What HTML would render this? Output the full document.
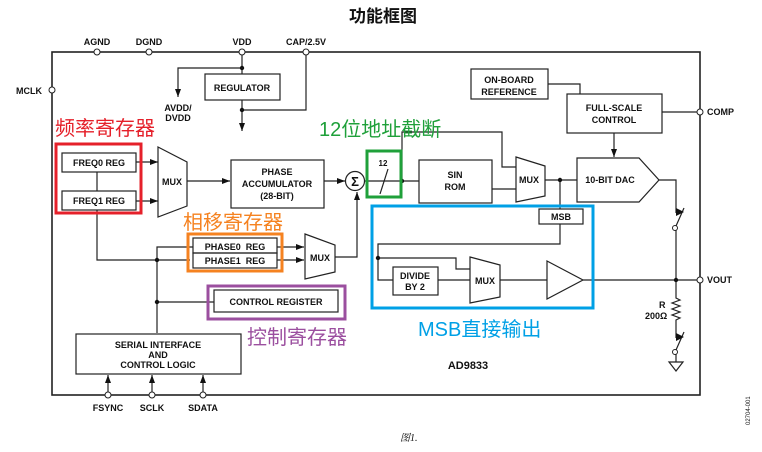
<!DOCTYPE html>
<html><head><meta charset="utf-8"><style>
html,body{margin:0;padding:0;background:#fff;}
svg{display:block;}
text{font-family:"Liberation Sans",Arial,sans-serif;font-weight:bold;font-size:9px;fill:#111;}
.cn{font-family:"Liberation Sans","Noto Sans CJK SC",sans-serif;font-weight:normal;font-size:20px;}
</style></head><body>
<svg width="762" height="452" viewBox="0 0 762 452" xmlns="http://www.w3.org/2000/svg">
<defs><marker id="a" markerWidth="8" markerHeight="6" refX="8" refY="3" orient="auto" markerUnits="userSpaceOnUse"><path d="M0,0L8,3L0,6z" fill="#111"/></marker></defs>
<g stroke="#222" stroke-width="1.2" fill="none">
<rect x="52" y="52" width="648" height="343" stroke-width="1.6"/>
<path d="M242 52V110M242 68H178V97" marker-end="url(#a)"/>
<path d="M242 110V131" marker-end="url(#a)"/>
<path d="M242 110H306V52"/>
<rect x="205" y="74" width="75" height="26" fill="#fff"/>
<rect x="62" y="153" width="74" height="19"/>
<rect x="62" y="191" width="74" height="19"/>
<path d="M97 172V191M97 210V260H190"/>
<path d="M136 162H158" marker-end="url(#a)"/>
<path d="M136 201H158" marker-end="url(#a)"/>
<path d="M158 147L187 162V206L158 217Z"/>
<path d="M187 181H230" marker-end="url(#a)"/>
<rect x="231" y="160" width="93" height="48"/>
<path d="M324 181H345" marker-end="url(#a)"/>
<circle cx="355" cy="181" r="9.5"/>
<path d="M365 181H419"/>
<path d="M380 194L388 169"/>
<path d="M402 181V132H502V167H516"/>
<rect x="419" y="160" width="73" height="43"/>
<path d="M492 189H516"/>
<path d="M516 157L545 166V196L516 202Z"/>
<path d="M545 180H577"/>
<path d="M577 158H639L659 180L639 202H577Z"/>
<rect x="471" y="69" width="77" height="30"/>
<path d="M548 84H580V94"/>
<rect x="567" y="94" width="95" height="39"/>
<path d="M614 133V157" marker-end="url(#a)"/>
<path d="M662 112H700"/>
<path d="M659 180H676V213M676 226L684 208M676 230V280"/>
<path d="M560 180V209"/>
<rect x="539" y="209" width="44" height="15"/>
<path d="M560 224V244H378V280H393"/>
<path d="M378 258H456V269H470"/>
<rect x="393" y="267" width="45" height="28"/>
<path d="M438 280H470"/>
<path d="M470 257L500 265V297L470 303Z"/>
<path d="M500 280H547"/>
<path d="M547 261L583 280L547 299Z"/>
<path d="M583 280H700"/>
<path d="M676 280V298L680 300L672 303L680 306L672 309L680 312L672 315L680 318L676 320V338M676 350L684 332M676 354V362"/>
<path d="M669 362H683L676 371Z"/>
<rect x="193" y="238" width="84" height="15"/>
<rect x="193" y="253" width="84" height="15"/>
<path d="M277 247H304" marker-end="url(#a)"/>
<path d="M277 260H304" marker-end="url(#a)"/>
<path d="M305 234L335 245V272L305 279Z"/>
<path d="M335 257H357V192" marker-end="url(#a)"/>
<path d="M193 247H157V333M157 302H214"/>
<rect x="214" y="290" width="124" height="22"/>
<rect x="76" y="334" width="165" height="40"/>
<path d="M108 395V375" marker-end="url(#a)"/>
<path d="M152 395V375" marker-end="url(#a)"/>
<path d="M203 395V375" marker-end="url(#a)"/>
</g>
<path d="M676 208L684 212L676 216Z" fill="#111"/>
<path d="M676 333L684 337L676 341Z" fill="#111"/>
<g fill="#111">
<circle cx="242" cy="68" r="2.2"/><circle cx="242" cy="110" r="2.2"/>
<circle cx="402" cy="181" r="2.2"/><circle cx="560" cy="180" r="2.2"/>
<circle cx="378" cy="258" r="2.2"/><circle cx="676" cy="280" r="2.2"/>
<circle cx="157" cy="260" r="2.2"/><circle cx="157" cy="302" r="2.2"/>
</g>
<g fill="#fff" stroke="#222" stroke-width="1">
<circle cx="97" cy="52" r="3"/><circle cx="149" cy="52" r="3"/><circle cx="242" cy="52" r="3"/><circle cx="306" cy="52" r="3"/>
<circle cx="52" cy="90" r="3"/><circle cx="700" cy="112" r="3"/><circle cx="700" cy="280" r="3"/>
<circle cx="108" cy="395" r="3"/><circle cx="152" cy="395" r="3"/><circle cx="203" cy="395" r="3"/>
<circle cx="675" cy="228" r="2.5"/><circle cx="675" cy="352" r="2.5"/>
</g>
<g fill="none" stroke-width="3">
<rect x="56" y="144" width="85" height="69" stroke="#e5202a"/>
<rect x="188" y="234" width="94" height="37" stroke="#f58220"/>
<rect x="208" y="286" width="137" height="33" stroke="#9b4f9f"/>
<rect x="367" y="151" width="34" height="46" stroke="#1fa03a"/>
<rect x="372" y="206" width="221" height="102" stroke="#00a0e6"/>
</g>
<text x="383" y="22" text-anchor="middle" style="font-family:'Liberation Sans','Noto Sans CJK SC',sans-serif;font-size:17px">功能框图</text>
<g text-anchor="middle">
<text x="97" y="45">AGND</text><text x="149" y="45">DGND</text><text x="242" y="45">VDD</text><text x="306" y="45">CAP/2.5V</text>
<text x="178" y="111">AVDD/</text><text x="178" y="121">DVDD</text>
<text x="242" y="91">REGULATOR</text>
<text x="99" y="166">FREQ0 REG</text><text x="99" y="204">FREQ1 REG</text>
<text x="172" y="185">MUX</text>
<text x="277" y="175">PHASE</text><text x="277" y="187">ACCUMULATOR</text><text x="277" y="199">(28-BIT)</text>
<text x="355" y="186" style="font-size:13px">Σ</text>
<text x="383" y="166" style="font-size:8px">12</text>
<text x="455" y="178">SIN</text><text x="455" y="190">ROM</text>
<text x="529" y="183">MUX</text>
<text x="509" y="83">ON-BOARD</text><text x="509" y="95">REFERENCE</text>
<text x="614" y="111">FULL-SCALE</text><text x="614" y="123">CONTROL</text>
<text x="610" y="183">10-BIT DAC</text>
<text x="561" y="220">MSB</text>
<text x="415" y="279">DIVIDE</text><text x="415" y="290">BY 2</text>
<text x="485" y="284">MUX</text>
<text x="235" y="250">PHASE0&#160;&#160;REG</text><text x="235" y="264">PHASE1&#160;&#160;REG</text>
<text x="320" y="261">MUX</text>
<text x="276" y="305">CONTROL&#160;REGISTER</text>
<text x="158" y="348">SERIAL INTERFACE</text><text x="158" y="358">AND</text><text x="158" y="368">CONTROL LOGIC</text>
<text x="108" y="411">FSYNC</text><text x="152" y="411">SCLK</text><text x="203" y="411">SDATA</text>
<text x="468" y="369" style="font-size:11px">AD9833</text>
</g>
<text x="16" y="94">MCLK</text>
<text x="707" y="115">COMP</text><text x="707" y="283">VOUT</text>
<text x="659" y="308">R</text><text x="645" y="319">200Ω</text>
<text class="cn" x="55" y="135" style="fill:#e5202a">频率寄存器</text>
<text class="cn" x="319" y="136" style="fill:#1fa03a">12位地址截断</text>
<text class="cn" x="183" y="229" style="fill:#f58220">相移寄存器</text>
<text class="cn" x="247" y="344" style="fill:#9b4f9f">控制寄存器</text>
<text class="cn" x="418" y="336" style="fill:#00a0e6">MSB直接输出</text>
<text x="400" y="441" style="font-family:'Liberation Serif','Noto Serif CJK SC',serif;font-style:italic;font-weight:normal;font-size:10px">图1.</text>
<text transform="translate(750,425) rotate(-90)" style="font-size:6px;font-weight:normal">02704-001</text>
</svg>
</body></html>
